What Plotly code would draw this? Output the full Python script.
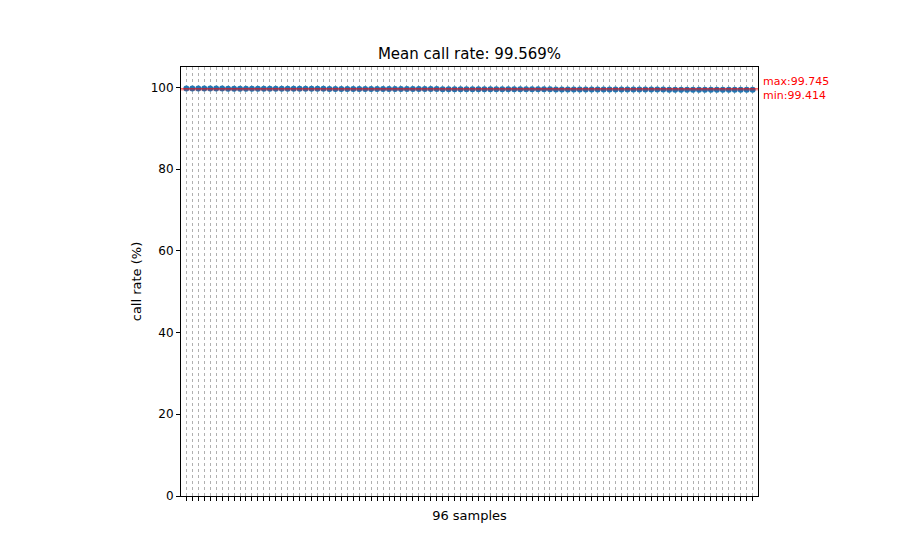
import plotly.graph_objects as go

# call rate per sample (%), sorted high to low
call_rate = [
    99.745, 99.739, 99.733, 99.727, 99.721, 99.715, 99.709, 99.703, 99.697, 99.694,
    99.690, 99.687, 99.684, 99.681, 99.677, 99.674, 99.671, 99.668, 99.664, 99.661,
    99.658, 99.655, 99.651, 99.648, 99.645, 99.642, 99.638, 99.635, 99.632, 99.629,
    99.625, 99.622, 99.619, 99.616, 99.612, 99.609, 99.606, 99.603, 99.599, 99.596,
    99.593, 99.590, 99.586, 99.583, 99.580, 99.577, 99.573, 99.570, 99.567, 99.564,
    99.560, 99.557, 99.554, 99.551, 99.547, 99.544, 99.541, 99.538, 99.534, 99.531,
    99.528, 99.525, 99.521, 99.518, 99.515, 99.512, 99.508, 99.505, 99.502, 99.499,
    99.495, 99.492, 99.489, 99.486, 99.482, 99.479, 99.476, 99.473, 99.469, 99.466,
    99.463, 99.460, 99.456, 99.453, 99.450, 99.447, 99.443, 99.440, 99.437, 99.434,
    99.430, 99.427, 99.424, 99.421, 99.417, 99.414,
]
samples = list(range(len(call_rate)))
max_rate = 99.745
min_rate = 99.414
mean_rate = 99.569
y_ticks = [0, 20, 40, 60, 80, 100]

fig = go.Figure()

fig.add_trace(go.Scatter(
    x=samples, y=call_rate, mode="markers",
    marker=dict(color="#1f77b4", size=6, line=dict(width=0)),
    showlegend=False, hoverinfo="x+y",
))

# max / min reference lines across the whole axes
for v in (max_rate, min_rate):
    fig.add_shape(type="line", xref="paper", x0=0, x1=1, yref="y", y0=v, y1=v,
                  line=dict(color="red", width=1), opacity=0.6, layer="above")

fig.add_annotation(xref="paper", x=1.005, yref="y", y=max_rate + 1.7,
                   text="max:%.3f" % max_rate, showarrow=False, xanchor="left",
                   yanchor="middle", font=dict(color="red", size=11))
fig.add_annotation(xref="paper", x=1.005, yref="y", y=min_rate - 1.3,
                   text="min:%.3f" % min_rate, showarrow=False, xanchor="left",
                   yanchor="middle", font=dict(color="red", size=11))

fig.update_layout(
    width=922, height=558,
    margin=dict(l=173, r=172, t=59, b=70),
    paper_bgcolor="white", plot_bgcolor="white",
    font=dict(family="DejaVu Sans", color="black", size=12),
    title=dict(text="Mean call rate: %.3f%%" % mean_rate, x=461.5 / 922,
               xanchor="center", y=1 - 46 / 558, yanchor="middle",
               font=dict(size=15)),
    xaxis=dict(
        range=[-0.9, 95.9], tickvals=samples, ticktext=[""] * len(samples),
        ticks="outside", ticklen=4, tickcolor="black",
        showgrid=True, gridcolor="#b0b0b0", griddash="dot", gridwidth=1,
        showline=True, linecolor="black", linewidth=1, mirror=True,
        zeroline=False,
        title=dict(text="96 samples", font=dict(size=13), standoff=8),
    ),
    yaxis=dict(
        range=[0, 105], tickvals=y_ticks,
        ticks="outside", ticklen=4, tickcolor="black",
        showgrid=False, showline=True, linecolor="black", linewidth=1, mirror=True,
        zeroline=False,
        title=dict(text="call rate (%)", font=dict(size=13), standoff=6),
    ),
)

fig.write_html("out.html")
